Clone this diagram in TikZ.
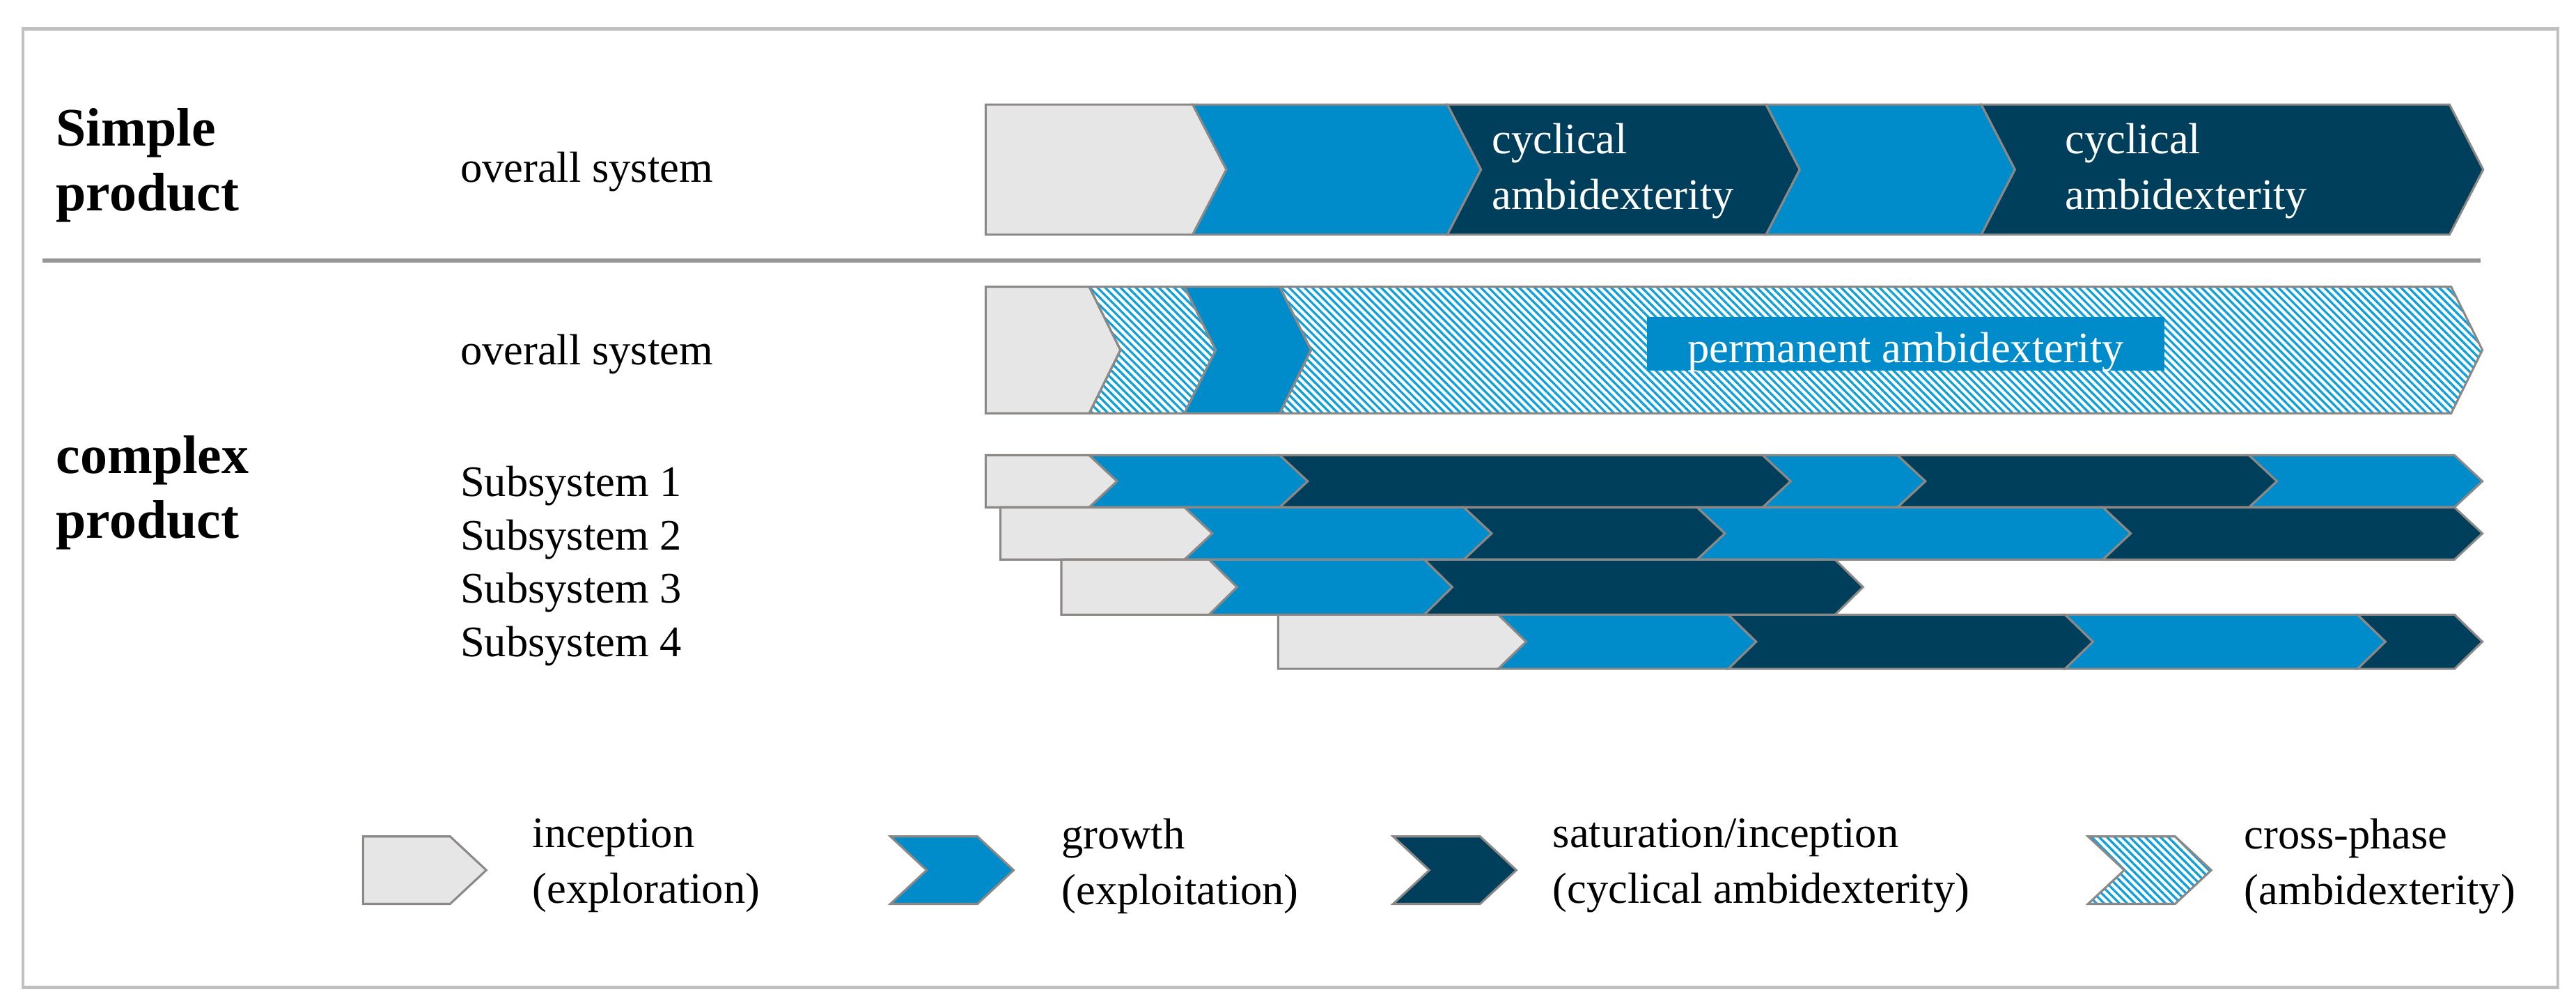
\documentclass[tikz,border=0pt]{standalone}
\usepackage{fontspec}
\setmainfont{Liberation Serif}
\usetikzlibrary{patterns.meta}

\definecolor{incepgray}{HTML}{E6E6E6}
\definecolor{growblue}{HTML}{008BCB}
\definecolor{saturblue}{HTML}{003F5C}
\definecolor{hatchblue}{HTML}{0FA0DC}
\definecolor{edgegray}{HTML}{8C8886}
\definecolor{framegray}{HTML}{C0C0C0}
\definecolor{rulegray}{HTML}{969696}

% one phase of a bar: style, left x, right x, top y, bottom y, notch, tip
\newcommand{\phasebox}[7]{\draw[#1] (#2,#4) -- (#3,#4) -- ({#3+#7},{(#4+#5)/2}) -- (#3,#5) -- (#2,#5) -- ({#2+#6},{(#4+#5)/2}) -- cycle;}

\begin{document}
\begin{tikzpicture}[x=1pt, y=-1pt, every node/.style={inner sep=0pt, font=\fontsize{26.5}{34}\selectfont},
	phaseline/.style={draw=edgegray, line width=1.3pt, line join=miter},
	incep/.style={phaseline, fill=incepgray},
	growth/.style={phaseline, fill=growblue},
	satur/.style={phaseline, fill=saturblue},
	crossph/.style={phaseline, pattern={Lines[angle=-45, distance=3.3pt, line width=1.4pt]}, pattern color=hatchblue},
	heading/.style={anchor=north west, align=left, font=\fontsize{33}{39.5}\selectfont\bfseries},
	rowlabel/.style={anchor=base west},
	legendtext/.style={anchor=north west, align=left}]
	\useasboundingbox (0,0) rectangle (1568,613);
	\draw[framegray, line width=2pt] (14,17.7) rectangle (1557,601);
	\draw[rulegray, line width=2.5pt] (26,158.5) -- (1510,158.5);
	
	\node[heading] (simple) at (34,65.5) {Simple\\product};
	\node[heading] (complex) at (34,265) {complex\\product};
	\node[rowlabel] (simpleall) at (280,111) {overall system};
	\node[rowlabel] (complexall) at (280,222) {overall system};
	\node[rowlabel] (sub1) at (280,302) {Subsystem 1};
	\node[rowlabel] (sub2) at (280,334.5) {Subsystem 2};
	\node[rowlabel] (sub3) at (280,367) {Subsystem 3};
	\node[rowlabel] (sub4) at (280,399.5) {Subsystem 4};
	
	% simple product
	\phasebox{incep}{600}{726}{63.6}{142.8}{0}{20.5}
	\phasebox{growth}{726}{881}{63.6}{142.8}{20.5}{20.5}
	\phasebox{satur}{881}{1075}{63.6}{142.8}{20.5}{20.5}
	\phasebox{growth}{1075}{1206}{63.6}{142.8}{20.5}{20.5}
	\phasebox{satur}{1206}{1491}{63.6}{142.8}{20.5}{20.5}
	\node[legendtext, text=white] (cyc1) at (908,74.9) {cyclical\\ambidexterity};
	\node[legendtext, text=white] (cyc2) at (1257,74.9) {cyclical\\ambidexterity};
	
	% complex product, overall system
	\phasebox{incep}{600}{663}{174.5}{251.5}{0}{19}
	\phasebox{crossph}{663}{721}{174.5}{251.5}{19}{19}
	\phasebox{growth}{721}{779}{174.5}{251.5}{19}{19}
	\phasebox{crossph}{779}{1492}{174.5}{251.5}{19}{19}
	\node[anchor=base, fill=growblue, text=white, inner xsep=24.5pt, text height=27.5pt, text depth=5pt] (perm) at (1160,220.5) {permanent ambidexterity};
	
	% subsystems
	\phasebox{incep}{600}{663}{277}{308.7}{0}{17}
	\phasebox{growth}{663}{779}{277}{308.7}{17}{17}
	\phasebox{satur}{779}{1073}{277}{308.7}{17}{17}
	\phasebox{growth}{1073}{1155}{277}{308.7}{17}{17}
	\phasebox{satur}{1155}{1369}{277}{308.7}{17}{17}
	\phasebox{growth}{1369}{1494}{277}{308.7}{17}{17}
	
	\phasebox{incep}{609}{721}{308.7}{340.5}{0}{17}
	\phasebox{growth}{721}{891}{308.7}{340.5}{17}{17}
	\phasebox{satur}{891}{1033}{308.7}{340.5}{17}{17}
	\phasebox{growth}{1033}{1280}{308.7}{340.5}{17}{17}
	\phasebox{satur}{1280}{1494}{308.7}{340.5}{17}{17}
	
	\phasebox{incep}{646}{736}{340.5}{374}{0}{17}
	\phasebox{growth}{736}{867}{340.5}{374}{17}{17}
	\phasebox{satur}{867}{1117}{340.5}{374}{17}{17}
	
	\phasebox{incep}{778}{912}{374}{407}{0}{17}
	\phasebox{growth}{912}{1052}{374}{407}{17}{17}
	\phasebox{satur}{1052}{1257}{374}{407}{17}{17}
	\phasebox{growth}{1257}{1435}{374}{407}{17}{17}
	\phasebox{satur}{1435}{1494}{374}{407}{17}{17}
	
	% legend
	\phasebox{incep}{221}{274}{509}{550}{0}{22}
	\phasebox{growth}{542}{595}{509}{550}{22}{22}
	\phasebox{satur}{848}{901}{509}{550}{22}{22}
	\phasebox{crossph}{1271}{1324}{509}{550}{22}{22}
	\node[legendtext] (leg1) at (324,498) {inception\\(exploration)};
	\node[legendtext] (leg2) at (646,498) {growth\\(exploitation)};
	\node[legendtext] (leg3) at (945,498) {saturation/inception\\(cyclical ambidexterity)};
	\node[legendtext] (leg4) at (1366,498) {cross-phase\\(ambidexterity)};
\end{tikzpicture}
\end{document}
